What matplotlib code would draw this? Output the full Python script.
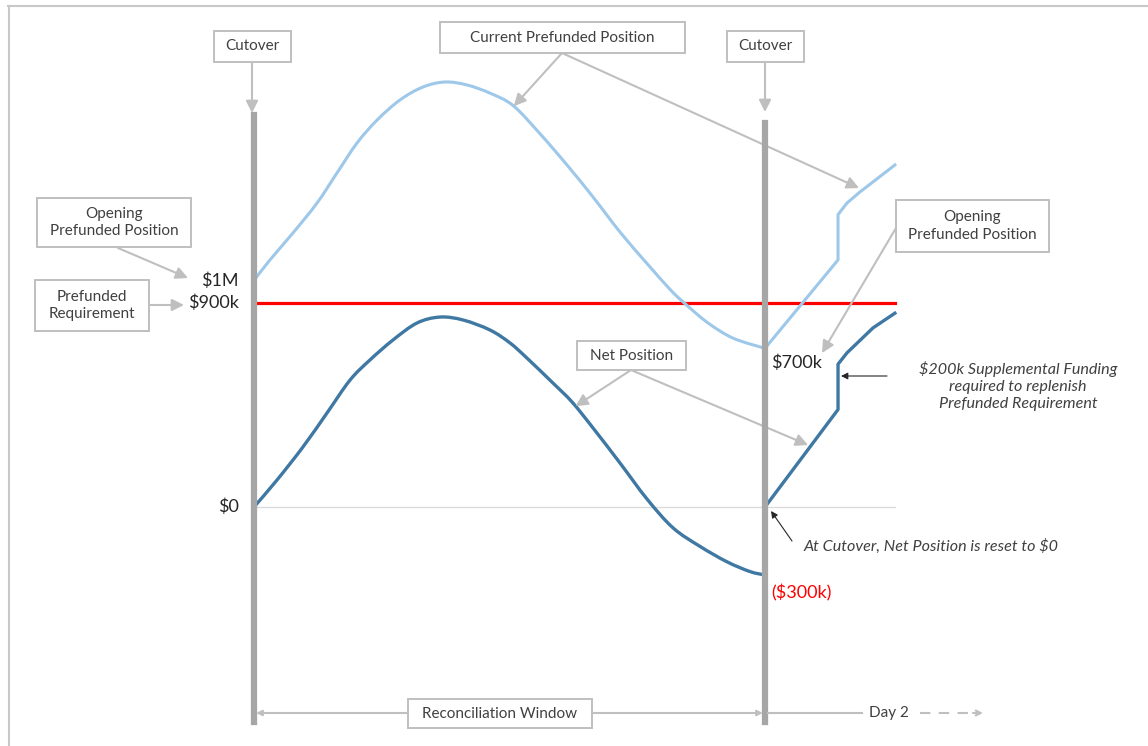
import numpy as np
import matplotlib.pyplot as plt
from matplotlib.lines import Line2D
from matplotlib.patches import Rectangle, PathPatch
from matplotlib.path import Path

plt.rcParams['font.family'] = ['Lato', 'DejaVu Sans']
plt.rcParams['text.parse_math'] = False

W, H = 1148, 746

# hours since the first cutover, balances in $k
day1_hours = [0, 0.75, 1.83, 2.96, 3.9, 4.84, 5.78, 6.86, 7.94, 8.97, 10.0, 11.08,
              12.17, 13.43, 14.7, 15.92, 17.19, 18.46, 19.54, 20.15, 21.28, 22.5, 24]
prefunded_day1 = [1000, 1090, 1209, 1341, 1474, 1606, 1707, 1796, 1853, 1875, 1862, 1826,
                  1771, 1647, 1509, 1368, 1213, 1074, 960, 905, 815, 745, 700]

net_hours = [0, 1.08, 2.3, 3.43, 4.51, 5.45, 6.53, 7.66, 8.74, 9.82, 11.08, 12.02,
             12.82, 14.04, 14.94, 15.92, 17.19, 18.46, 19.68, 20.95, 22.22, 23.3, 24]
net_day1 = [0, 119, 265, 415, 560, 649, 737, 812, 838, 825, 781, 724,
            657, 547, 463, 349, 194, 35, -92, -174, -242, -285, -300]

day2_hours = [24, 27.43, 27.43, 27.85, 28.46, 29.07, 30.1]
prefunded_day2 = [700, 1090, 1290, 1341, 1390, 1434, 1509]
net_day2 = [0, 430, 630, 680, 735, 790, 855]

cutovers = [0, 24]
requirement = 900
level_values = [1000, 900, 0]
level_labels = ['$1M', '$900k', '$0']

LIGHT = '#9DC8EA'
DARK = '#3E78A3'
GREY = '#BFBFBF'
BAR = '#A6A6A6'
TEXT = '#404040'

# pixel position of hour 0 / $0 and the scale of the drawing
ORIGIN_X, ORIGIN_Y = 254, 507
PX_PER_HOUR = 511 / 24
PX_PER_K = 204 / 900

fig = plt.figure(figsize=(W / 100, H / 100), dpi=100)
ax = fig.add_axes([0, 0, 1, 1])
ax.set_xlim(-ORIGIN_X / PX_PER_HOUR, (W - ORIGIN_X) / PX_PER_HOUR)
ax.set_ylim(-(H - ORIGIN_Y) / PX_PER_K, ORIGIN_Y / PX_PER_K)
ax.axis('off')


def fp(x, y):
    return (x / W, 1 - y / H)


def smooth(xs, ys):
    # catmull-rom through the points, as cubic bezier segments
    pts = np.column_stack([xs, ys]).astype(float)
    verts, codes = [pts[0]], [Path.MOVETO]
    for i in range(len(pts) - 1):
        p0 = pts[max(i - 1, 0)]
        p1, p2 = pts[i], pts[i + 1]
        p3 = pts[min(i + 2, len(pts) - 1)]
        verts += [p1 + (p2 - p0) / 6, p2 - (p3 - p1) / 6, p2]
        codes += [Path.CURVE4] * 3
    return Path(verts, codes)


def box(x0, y0, x1, y1, text, size=11):
    fig.add_artist(Rectangle(fp(x0, y1), (x1 - x0) / W, (y1 - y0) / H,
                             transform=fig.transFigure, facecolor='white',
                             edgecolor=GREY, lw=1.4, zorder=5))
    fig.text(*fp((x0 + x1) / 2, (y0 + y1) / 2), text, ha='center', va='center',
             color=TEXT, fontsize=size, linespacing=1.3, zorder=6)


def arrow(tail, head, head_coords='figure fraction', color=GREY, lw=1.5, scale=18):
    ax.annotate('', xy=head, xycoords=head_coords, xytext=fp(*tail),
                textcoords='figure fraction',
                arrowprops=dict(arrowstyle='-|>', color=color, lw=lw,
                                mutation_scale=scale, shrinkA=0, shrinkB=0))


# frame
fig.add_artist(Line2D([8 / W, 1], [1 - 6 / H] * 2, transform=fig.transFigure,
                      color='#C8C8C8', lw=1.5))
fig.add_artist(Line2D([8.5 / W] * 2, [0, 1 - 6 / H], transform=fig.transFigure,
                      color='#C8C8C8', lw=1.5))

# $0 baseline and prefunded requirement
end_hour = day2_hours[-1]
ax.plot([0, end_hour], [0, 0], color='#D9D9D9', lw=0.9, zorder=1)
ax.plot([0.2, end_hour], [requirement, requirement], color='#FF0000', lw=2.3, zorder=2)

# positions
ax.add_patch(PathPatch(smooth(day1_hours, prefunded_day1), fill=False, edgecolor=LIGHT,
                       lw=2.2, zorder=3))
ax.plot(day2_hours, prefunded_day2, color=LIGHT, lw=2.2, zorder=3, solid_joinstyle='round')
ax.add_patch(PathPatch(smooth(net_hours, net_day1), fill=False, edgecolor=DARK,
                       lw=2.4, zorder=3))
ax.plot(day2_hours, net_day2, color=DARK, lw=2.4, zorder=3, solid_joinstyle='round')

# cutover bars
xt = ax.get_xaxis_transform()
ax.plot([cutovers[0]] * 2, [1 - 722 / H, 1 - 115 / H], transform=xt, color=BAR, lw=4.5, zorder=4)
ax.plot([cutovers[1]] * 2, [1 - 722 / H, 1 - 123 / H], transform=xt, color=BAR, lw=4.5, zorder=4)

# level labels beside the first cutover
for v, lab in zip(level_values, level_labels):
    ax.annotate(lab, xy=(cutovers[0], v), xytext=(-15, 0), textcoords='offset pixels',
                ha='right', va='center', fontsize=13, color='#262626')

ax.annotate('$700k', xy=(day1_hours[-1], prefunded_day1[-1]), xytext=(6, -14),
            textcoords='offset pixels', ha='left', va='center', fontsize=13, color='#262626')
ax.annotate('($300k)', xy=(net_hours[-1], net_day1[-1]), xytext=(6, -18),
            textcoords='offset pixels', ha='left', va='center', fontsize=13, color='#FF0000')

# cutover callouts
box(214, 31, 291, 62, 'Cutover')
arrow((252, 62), fp(252, 113))
box(727, 31, 804, 62, 'Cutover')
arrow((765, 62), fp(765, 112))

# current prefunded position callout
box(440, 22, 685, 53, 'Current Prefunded Position')
arrow((562, 53), (12.2, np.interp(12.2, day1_hours, prefunded_day1)), 'data')
arrow((562, 53), fp(859, 188))

# opening / requirement callouts on the left
box(37, 198, 191, 247, 'Opening\nPrefunded Position')
arrow((118, 248), fp(188, 278))
box(35, 280, 149, 331, 'Prefunded\nRequirement')
arrow((149, 305), fp(184, 305))

# net position callout
box(577, 341, 686, 370, 'Net Position')
arrow((631, 370), (15.1, np.interp(15.1, net_hours, net_day1)), 'data')
arrow((631, 370), fp(808, 445))

# opening position for day 2
box(896, 200, 1049, 252, 'Opening\nPrefunded Position')
arrow((896, 228), fp(822, 353))

# notes
fig.text(*fp(1018, 386), '$200k Supplemental Funding\nrequired to replenish\nPrefunded Requirement',
         ha='center', va='center', fontsize=11.6, style='italic', color=TEXT, linespacing=1.3)
arrow((887, 376), fp(841, 376), color='#262626', lw=0.8, scale=10)

fig.text(*fp(804, 546), 'At Cutover, Net Position is reset to $0',
         ha='left', va='center', fontsize=11.6, style='italic', color=TEXT)
arrow((792, 541), fp(771, 511), color='#262626', lw=0.8, scale=10)

# reconciliation window along the bottom
ax.annotate('', xy=(cutovers[1] - 0.1, 1 - 713 / H), xycoords=('data', 'figure fraction'),
            xytext=(cutovers[0] + 0.1, 1 - 713 / H), textcoords=('data', 'figure fraction'),
            arrowprops=dict(arrowstyle='<|-|>', color=GREY, lw=1.5, mutation_scale=8,
                            shrinkA=0, shrinkB=0))
box(408, 699, 592, 728, 'Reconciliation Window')
fig.add_artist(Line2D([768 / W, 862 / W], [1 - 713 / H] * 2, transform=fig.transFigure,
                      color=GREY, lw=1.5))
fig.text(*fp(869, 713), 'Day 2', ha='left', va='center', fontsize=11, color=TEXT)
fig.add_artist(Line2D([920 / W, 975 / W], [1 - 713 / H] * 2, transform=fig.transFigure,
                      color=GREY, lw=1.5, ls=(0, (5, 4))))
ax.annotate('', xy=fp(983, 713), xycoords='figure fraction', xytext=fp(973, 713),
            textcoords='figure fraction',
            arrowprops=dict(arrowstyle='->', color=GREY, lw=1.5, mutation_scale=9,
                            shrinkA=0, shrinkB=0))

fig.savefig('out.png', dpi=100)
